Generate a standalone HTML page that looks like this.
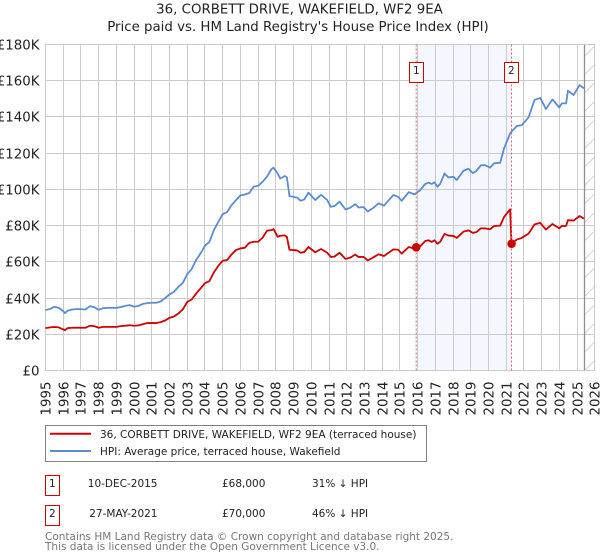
<!DOCTYPE html>
<html lang="en">
<head>
<meta charset="utf-8">
<title>36, CORBETT DRIVE, WAKEFIELD, WF2 9EA</title>
<style>
html,body{margin:0;padding:0;background:#fff;}
svg{display:block;font-family:"DejaVu Sans","Liberation Sans",sans-serif;}
</style>
</head>
<body>
<svg id="chart" width="600" height="560" viewBox="0 0 600 560" xmlns="http://www.w3.org/2000/svg">
  <defs>
    <clipPath id="plot-clip"><rect x="45" y="44" width="540" height="327"/></clipPath>
  </defs>
  <text x="299.5" y="13.5" font-size="13.35" text-anchor="middle" fill="#222">36, CORBETT DRIVE, WAKEFIELD, WF2 9EA</text>
  <text x="298" y="31" font-size="13.35" text-anchor="middle" fill="#222">Price paid vs. HM Land Registry's House Price Index (HPI)</text>
  <g id="shade"></g>
  <g id="grid"></g>
  <g id="hatch"></g>
  <g id="axes"></g>
  <g id="series" clip-path="url(#plot-clip)"></g>
  <g id="sales"></g>

  <rect x="45.5" y="425.5" width="381" height="36" fill="#fff" stroke="#808080"/>
  <line x1="50" x2="91" y1="433.7" y2="433.7" stroke="#cc0000" stroke-width="2"/>
  <text x="100" y="438" font-size="10.5" fill="#222">36, CORBETT DRIVE, WAKEFIELD, WF2 9EA (terraced house)</text>
  <line x1="50" x2="91" y1="451" y2="451" stroke="#5b8bd0" stroke-width="2"/>
  <text x="100" y="455" font-size="10.5" fill="#222">HPI: Average price, terraced house, Wakefield</text>

  <g font-size="10.5" fill="#222">
    <rect x="45.5" y="475.5" width="14" height="20" fill="#fff" stroke="#cc0000"/>
    <text x="52.3" y="487" text-anchor="middle">1</text>
    <text x="157.5" y="487" text-anchor="end">10-DEC-2015</text>
    <text x="222" y="487">£68,000</text>
    <text x="312" y="487">31% ↓ HPI</text>
  </g>
  <g font-size="10.5" fill="#222">
    <rect x="45.5" y="505.5" width="14" height="20" fill="#fff" stroke="#cc0000"/>
    <text x="52.3" y="517" text-anchor="middle">2</text>
    <text x="157.5" y="517" text-anchor="end">27-MAY-2021</text>
    <text x="222" y="517">£70,000</text>
    <text x="312" y="517">46% ↓ HPI</text>
  </g>
  <text x="45" y="540" font-size="10.5" fill="#777">Contains HM Land Registry data © Crown copyright and database right 2025.</text>
  <text x="45" y="550" font-size="10.5" fill="#777">This data is licensed under the Open Government Licence v3.0.</text>
</svg>
<script>
const yearTicks = [1995,1996,1997,1998,1999,2000,2001,2002,2003,2004,2005,2006,2007,2008,2009,2010,2011,2012,2013,2014,2015,2016,2017,2018,2019,2020,2021,2022,2023,2024,2025,2026];
const priceTicks = [0,20,40,60,80,100,120,140,160,180];
const priceTickLabels = ["£0","£20K","£40K","£60K","£80K","£100K","£120K","£140K","£160K","£180K"];
const dates = [
1995,1995.25,1995.5,1995.75,1996,1996.1,1996.25,1996.5,1996.75,1997,1997.25,1997.5,1997.75,
1998,1998.25,1998.5,1998.75,1999,1999.25,1999.5,1999.75,2000,2000.25,2000.5,2000.75,
2001,2001.25,2001.5,2001.75,2002,2002.25,2002.5,2002.75,2003,2003.25,2003.5,2003.75,
2004,2004.25,2004.5,2004.75,2005,2005.25,2005.5,2005.75,2006,2006.25,2006.5,2006.75,
2007,2007.25,2007.5,2007.75,2007.87,
2008.1,2008.25,2008.5,2008.62,2008.77,2009,2009.2,2009.4,2009.6,2009.84,
2010.22,2010.55,2010.9,2011.1,2011.3,2011.6,2011.93,2012.2,2012.48,2012.67,2012.95,
2013.19,2013.51,2013.8,2014.1,2014.63,2014.9,2015.1,2015.5,2015.83,2015.92,
2016.15,2016.43,2016.62,2016.8,2016.95,2017.12,2017.27,2017.52,2017.74,2018.02,2018.21,2018.59,2018.87,
2019.12,2019.31,2019.57,2019.81,2020.09,2020.32,2020.66,2020.88,2021.22,2021.3,
2021.6,2021.88,2022.26,2022.6,2022.92,2023.24,2023.61,2023.99,2024.14,2024.38,2024.48,2024.8,2025.14,2025.38];
const hpiValues = [
33.3,34,35.2,34.6,32.8,31.7,33,33.7,33.9,33.9,33.7,35.5,35,
33.5,34.4,34.6,34.6,34.6,35,35.7,36.1,35.2,35.7,36.8,37.2,
37.4,37.4,38.1,40,42,43.5,46.2,48.4,53.2,56,61,64.6,
68.9,71,77.5,82,86.4,87.5,91.3,94.1,96.7,97.2,98,101.5,
102,104.2,107,111.2,112,
108.8,106,107.4,106.7,96.3,95.9,95.4,93.7,94.4,98.2,
94.1,97,94.1,90.4,90.8,93.2,88.9,89.9,91.9,90,90.2,
87.8,89.9,92.3,91,96.9,95.9,93.7,98.5,97.2,98,
99.6,103,103.7,103,103.9,101.5,103,108.8,106.6,107,105.2,110.3,111.4,
109,110.1,113.3,113.4,112,114.4,114.7,122.7,130.9,131.9,
135,135.5,139.8,149.4,150.5,144.4,149.7,145.3,147.5,147.5,154.5,152.1,157.6,155.8];
const paidValues = [
23.4,23.8,24,23.8,22.7,22.3,23.4,23.6,23.6,23.6,23.6,24.7,24.5,
23.6,24.1,24.1,24.1,24.1,24.5,24.7,25,24.7,24.9,25.6,26.2,
26.2,26.2,26.7,27.6,29.1,29.8,31.5,33.7,37.9,39.2,42.5,45.3,
48.2,49.4,54.1,57.8,60.6,61,64.1,66.5,67.4,67.8,70.5,71.1,
71.1,73.3,77.2,77.5,78.1,
73.8,74.4,74.6,73.8,66.6,66.5,66.3,65,65.4,68.2,
65.3,67.1,65,62.7,62.9,65,61.6,62.3,64,62.7,62.7,
60.8,62.5,64.2,63.2,66.9,66.7,64.5,68.2,67.3,68,
68.6,71.5,71.9,71,71.9,70,71,75.4,74.5,74.3,73.2,76.7,77.4,
76,76.4,78.5,78.5,78,79.8,80,84.8,89,70,
72.3,73.2,75.6,80.7,81.5,77.8,80.9,78.5,79.8,79.8,83,82.8,85.3,83.9];
const saleDates = [2015.92,2021.3];
const salePrices = [68,70];
const saleLabels = ["1","2"];
const lastDataYear = 2025.4;

const NS = "http://www.w3.org/2000/svg";
const xPos = y => 45.5 + (y - 1995) * 17.72;
const yPos = v => 370.5 - v * 1.811;
const crisp = p => Math.round(p - 0.5) + 0.5;
function make(parent, tag, attrs, text) {
  const el = document.createElementNS(NS, tag);
  for (const k in attrs) el.setAttribute(k, attrs[k]);
  if (text !== undefined) el.textContent = text;
  parent.appendChild(el);
  return el;
}
const grid = document.getElementById("grid");
const axes = document.getElementById("axes");
const shade = document.getElementById("shade");
const hatch = document.getElementById("hatch");
const series = document.getElementById("series");
const sales = document.getElementById("sales");
const plotTop = crisp(yPos(180));
const plotBottom = crisp(yPos(0));
const plotLeft = crisp(xPos(1995));
const plotRight = crisp(xPos(2026));

const band = make(shade, "rect", {x: crisp(xPos(2016)), y: plotTop, width: xPos(saleDates[1]) - xPos(2016), height: plotBottom - plotTop, fill: "#f4f7fe"});



yearTicks.forEach(year => {
  const px = crisp(xPos(year));
  const gl = make(grid, "line", {x1: px, x2: px, y1: plotTop, y2: plotBottom, stroke: "#cbcbcb"});
  
  
  const label = make(axes, "text", {x: 0, y: 0, "font-size": 13.35, fill: "#222", "text-anchor": "end", transform: "translate(" + (px + 5) + ",415.5) rotate(-90)"}, String(year));
  
  
  label.setAttribute('text-anchor', 'start');
});
priceTicks.forEach((tick, i) => {
  const py = crisp(yPos(tick));
  const gl = make(grid, "line", {x1: plotLeft, x2: plotRight, y1: py, y2: py, stroke: "#cbcbcb"});
  
  
  const label = make(axes, "text", {x: 39.5, y: py + 5, "font-size": 13.35, fill: "#222", "text-anchor": "end"}, priceTickLabels[i]);
  
  
});

const hatchLeft = crisp(xPos(lastDataYear));
for (let yy = 360.5; yy > plotTop - 1; yy -= 18.5) {
  const h = make(hatch, "line", {x1: hatchLeft, x2: plotRight, y1: yy + 10, y2: yy, stroke: "#d2d2d2"});
  
  
}
const edge = make(hatch, "line", {x1: hatchLeft, x2: hatchLeft, y1: plotTop, y2: plotBottom, stroke: "#8f8f8f", "stroke-width": 1.3});



const toPath = vals => dates.map((d, i) => (i ? "L" : "M") + xPos(d).toFixed(2) + " " + yPos(vals[i]).toFixed(2)).join("");
const hpiLine = make(series, "path", {d: toPath(hpiValues), fill: "none", stroke: "#5b8bd0", "stroke-width": 1.8, "stroke-linejoin": "round"});


const paidLine = make(series, "path", {d: toPath(paidValues), fill: "none", stroke: "#cc0000", "stroke-width": 1.8, "stroke-linejoin": "round"});



saleDates.forEach((d, i) => {
  const px = xPos(d);
  const v = make(sales, "line", {x1: px, x2: px, y1: plotTop, y2: plotBottom, stroke: "#e8606c", "stroke-dasharray": "2 2"});
  
  
  const dot = make(sales, "circle", {cx: px, cy: yPos(salePrices[i]), r: 4.3, fill: "#cc0000"});
  
  
  const box = make(sales, "rect", {x: crisp(px) - 7, y: 62.5, width: 14, height: 20, fill: "#fff", stroke: "#cc0000"});
  
  
  const txt = make(sales, "text", {x: crisp(px) - 0.2, y: 74, "font-size": 10.5, fill: "#222", "text-anchor": "middle"}, saleLabels[i]);
  
  
});
const frame = make(axes, "rect", {x: plotLeft, y: plotTop, width: plotRight - plotLeft, height: plotBottom - plotTop, fill: "none", stroke: "#cbcbcb"});


</script>
</body>
</html>
